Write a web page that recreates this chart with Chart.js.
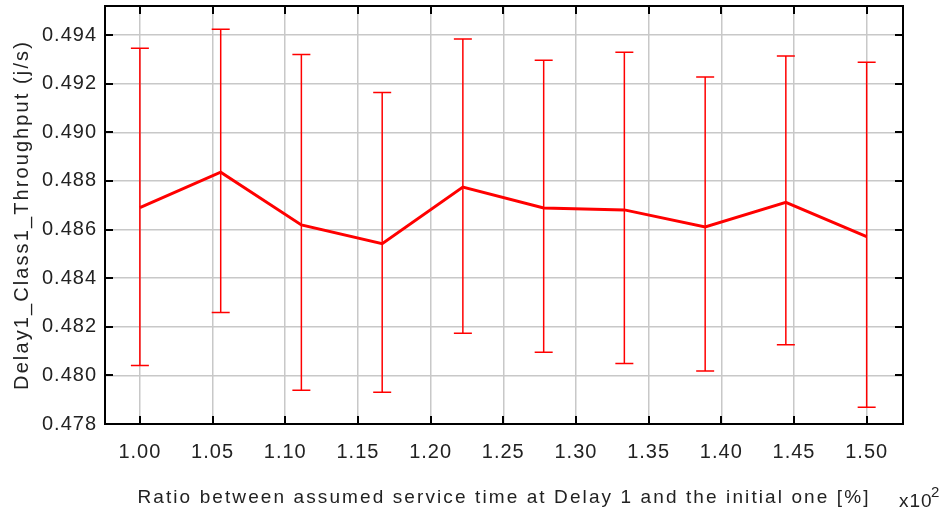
<!DOCTYPE html>
<html>
<head>
<meta charset="utf-8">
<script src="https://cdn.jsdelivr.net/npm/chart.js@4.4.1/dist/chart.umd.min.js"></script>
<style>
  body { margin: 0; background: #fff; }
  #caixa { width: 946px; height: 514px; }
</style>
</head>
<body>
<div id="caixa"><canvas id="grafico"></canvas></div>
<script>
/* Dados */

const ratios = [1.0, 1.0556, 1.1111, 1.1667, 1.2222, 1.2778, 1.3333, 1.3889, 1.4444, 1.5];
const throughput = [0.48690, 0.48836, 0.48619, 0.48542, 0.48775, 0.48689, 0.48681, 0.48611, 0.48712, 0.48571];
const upper = [0.49346, 0.49424, 0.49320, 0.49164, 0.49384, 0.49297, 0.49330, 0.49228, 0.49314, 0.49289];
const lower = [0.48041, 0.48259, 0.47939, 0.47931, 0.48173, 0.48095, 0.48049, 0.48018, 0.48126, 0.47869];
const xTicks = [1.00, 1.05, 1.10, 1.15, 1.20, 1.25, 1.30, 1.35, 1.40, 1.45, 1.50];
const yTicks = [0.478, 0.480, 0.482, 0.484, 0.486, 0.488, 0.490, 0.492, 0.494];

const fonte = "'Liberation Sans', Arial, sans-serif";

/* Barras de erro, moldura e espaçamento das letras */

const barrasErro = {
  id: "barrasErro",
  beforeDraw(chart) {
    // titulos dos eixos (desenhados antes dos datasets)
    chart.ctx.letterSpacing = "2.1px";
  },
  beforeDatasetsDraw(chart) {
    const ctx = chart.ctx;
    const x = chart.scales.x;
    const y = chart.scales.y;
    ctx.save();
    ctx.strokeStyle = "#ff0000";
    ctx.lineWidth = 1.5;
    for (let i = 0; i < ratios.length; i++) {
      const px = x.getPixelForValue(ratios[i]);
      const pu = y.getPixelForValue(upper[i]);
      const pl = y.getPixelForValue(lower[i]);
      ctx.beginPath();
      ctx.moveTo(px, pu);
      ctx.lineTo(px, pl);
      ctx.moveTo(px - 9, pu);
      ctx.lineTo(px + 9, pu);
      ctx.moveTo(px - 9, pl);
      ctx.lineTo(px + 9, pl);
      ctx.stroke();
    }
    ctx.restore();
    // rotulos dos ticks (z = 1, depois dos datasets)
    ctx.letterSpacing = "1px";
  },
  afterDraw(chart) {
    const ctx = chart.ctx;
    const a = chart.chartArea;
    const x = chart.scales.x;
    const y = chart.scales.y;
    ctx.save();
    ctx.strokeStyle = "#000";
    ctx.lineWidth = 2;
    ctx.strokeRect(a.left, a.top, a.right - a.left, a.bottom - a.top);
    ctx.beginPath();
    xTicks.forEach(v => {
      const px = Math.round(x.getPixelForValue(v));
      ctx.moveTo(px, a.top);
      ctx.lineTo(px, a.top + 8);
      ctx.moveTo(px, a.bottom);
      ctx.lineTo(px, a.bottom - 8);
    });
    yTicks.forEach(v => {
      const py = Math.round(y.getPixelForValue(v));
      ctx.moveTo(a.left, py);
      ctx.lineTo(a.left + 8, py);
      ctx.moveTo(a.right, py);
      ctx.lineTo(a.right - 8, py);
    });
    ctx.stroke();

    // multiplicador do eixo x
    ctx.fillStyle = "#222";
    ctx.textBaseline = "alphabetic";
    ctx.textAlign = "left";
    ctx.letterSpacing = "1px";
    ctx.font = "19px " + fonte;
    ctx.fillText("x10", 899, 507);
    ctx.font = "15px " + fonte;
    ctx.fillText("2", 931, 497);
    ctx.restore();
  }
};

const config = {
  type: "line",
  data: {
    datasets: [{
      data: ratios.map((r, i) => ({ x: r, y: throughput[i] })),
      borderColor: "#ff0000",
      borderWidth: 3,
      pointRadius: 0,
      tension: 0,
      fill: false
    }]
  },
  options: {
    responsive: true,
    maintainAspectRatio: false,
    animation: false,
    layout: { padding: { top: 6, right: 43, left: 0, bottom: 0 } },
    plugins: {
      legend: { display: false },
      tooltip: { enabled: false }
    },
    scales: {
      x: {
        type: "linear",
        min: 0.976,
        max: 1.525,
        afterBuildTicks: s => { s.ticks = xTicks.map(v => ({ value: v })); },
        afterFit: s => { s.height = 90; s.paddingLeft = 0; s.paddingRight = 0; },
        ticks: {
          callback: v => v.toFixed(2),
          font: { family: fonte, size: 20 },
          color: "#222",
          padding: 16,
          maxRotation: 0,
          z: 1
        },
        grid: { color: "#c8c8c8", lineWidth: 1.5, drawTicks: false },
        border: { display: false },
        title: {
          display: true,
          text: "Ratio between assumed service time at Delay 1 and the initial one [%]",
          font: { family: fonte, size: 19 },
          color: "#222",
          padding: { top: 0, bottom: 5 }
        }
      },
      y: {
        type: "linear",
        min: 0.478,
        max: 0.4952,
        afterBuildTicks: s => { s.ticks = yTicks.map(v => ({ value: v })); },
        afterFit: s => { s.width = 105; s.paddingTop = 0; s.paddingBottom = 0; },
        ticks: {
          callback: v => v.toFixed(3),
          font: { family: fonte, size: 20 },
          color: "#222",
          padding: 8,
          z: 1
        },
        grid: { color: "#c8c8c8", lineWidth: 1.5, drawTicks: false },
        border: { display: false },
        title: {
          display: true,
          text: "Delay1_Class1_Throughput (j/s)",
          font: { family: fonte, size: 20 },
          color: "#222",
          padding: { top: 10, bottom: 0 }
        }
      }
    }
  },
  plugins: [barrasErro]
};

const myChart = new Chart(document.getElementById("grafico"), config);
</script>
</body>
</html>
